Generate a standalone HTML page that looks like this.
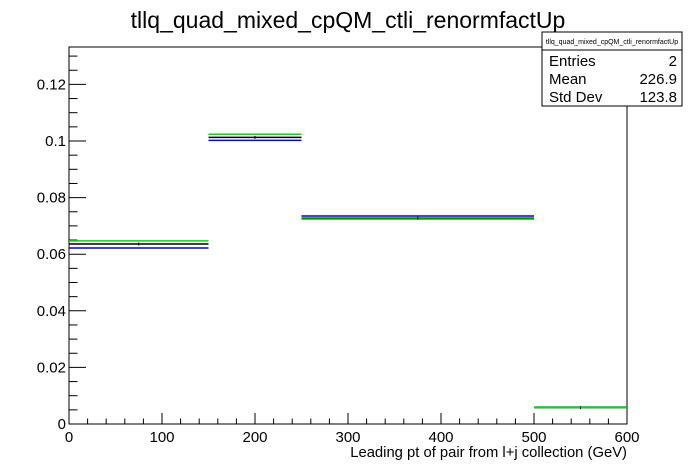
<!DOCTYPE html>
<html><head><meta charset="utf-8"><style>
html,body{margin:0;padding:0;background:#fff;}
svg{display:block;font-family:"Liberation Sans",Arial,sans-serif;}
</style></head><body>
<svg id="c" width="696" height="472" viewBox="0 0 696 472">
<rect width="696" height="472" fill="#fff"/>
<text x="348" y="28" font-size="23" text-anchor="middle">tllq_quad_mixed_cpQM_ctli_renormfactUp</text>
<g id="plot"></g>
<g>
<rect x="542" y="32" width="140" height="74" fill="#fff" stroke="#000" stroke-width="1"/>
<line x1="542" y1="50" x2="682" y2="50" stroke="#000"/>
<text x="612" y="44" font-size="7" text-anchor="middle">tllq_quad_mixed_cpQM_ctli_renormfactUp</text>
<text x="549" y="66" font-size="15">Entries</text>
<text x="677" y="66" font-size="15" text-anchor="end">2</text>
<text x="549" y="84" font-size="15">Mean</text>
<text x="677" y="84" font-size="15" text-anchor="end">226.9</text>
<text x="549" y="102" font-size="15">Std Dev</text>
<text x="677" y="102" font-size="15" text-anchor="end">123.8</text>
</g>
<text x="627" y="457" font-size="14.8" text-anchor="end">Leading pt of pair from l+j collection (GeV)</text>
</svg>
<script>
const binEdges = [0, 150, 250, 500, 600];
const blackValues = [0.0636, 0.1013, 0.0727, 0.0058];
const greenValues = [0.0647, 0.1024, 0.0724, 0.0058];
const blueValues = [0.0622, 0.1002, 0.0735, 0.0059];
const xTicks = [0, 100, 200, 300, 400, 500, 600];
const yTicks = [0, 0.02, 0.04, 0.06, 0.08, 0.1, 0.12];
const yTickLabels = ["0", "0.02", "0.04", "0.06", "0.08", "0.1", "0.12"];

const L = 69, R = 627, T = 47, B = 424;
const xMax = 600, yMax = (B - T) / 2830;
const xs = v => L + (v / xMax) * (R - L);
const ys = v => B - (v / yMax) * (B - T);
const NS = "http://www.w3.org/2000/svg";
const g = document.getElementById('plot');
function mk(tag, attrs, parent) {
  const e = document.createElementNS(NS, tag);
  for (const k in attrs) e.setAttribute(k, attrs[k]);
  (parent || g).appendChild(e);
  return e;
}
const frame = mk('rect', {x: L, y: T, width: R - L, height: B - T, fill: 'none', stroke: '#000', 'stroke-width': 1});



for (let v = 0; v <= xMax; v += 20) {
  const major = v % 100 === 0;
  const t = mk('line', {x1: xs(v), x2: xs(v), y1: B, y2: B - (major ? 11 : 5.5), stroke: '#000'});
  
  
}
xTicks.forEach(v => {
  const t = mk('text', {x: xs(v), y: 442, 'font-size': 15, 'text-anchor': 'middle'});
  t.textContent = String(v);
  
  
});
for (let i = 0; i * 0.005 <= yMax + 1e-9; i++) {
  const v = i * 0.005;
  const major = i % 4 === 0;
  const t = mk('line', {x1: L, x2: L + (major ? 17 : 8.5), y1: ys(v), y2: ys(v), stroke: '#000'});
  
  
}
yTicks.forEach((v, i) => {
  const t = mk('text', {x: L - 3, y: ys(v) + 5, 'font-size': 15, 'text-anchor': 'end'});
  t.textContent = yTickLabels[i];
  
  
});
function drawSeries(vals, color, name) {
  vals.forEach((v, i) => {
    const l = mk('line', {x1: xs(binEdges[i]), x2: xs(binEdges[i + 1]), y1: ys(v), y2: ys(v), stroke: color, 'stroke-width': 1.5});
    
    
  });
}
drawSeries(blueValues, '#0000dd', 'blue-series');
drawSeries(blackValues, '#000', 'black-series');
drawSeries(greenValues, '#00dd00', 'green-series');
blackValues.forEach((v, i) => {
  const c = (binEdges[i] + binEdges[i + 1]) / 2;
  const e = mk('line', {x1: xs(c), x2: xs(c), y1: ys(v) - 1.5, y2: ys(v) + 1.5, stroke: '#000'});
  
  
});
</script>
</body></html>
